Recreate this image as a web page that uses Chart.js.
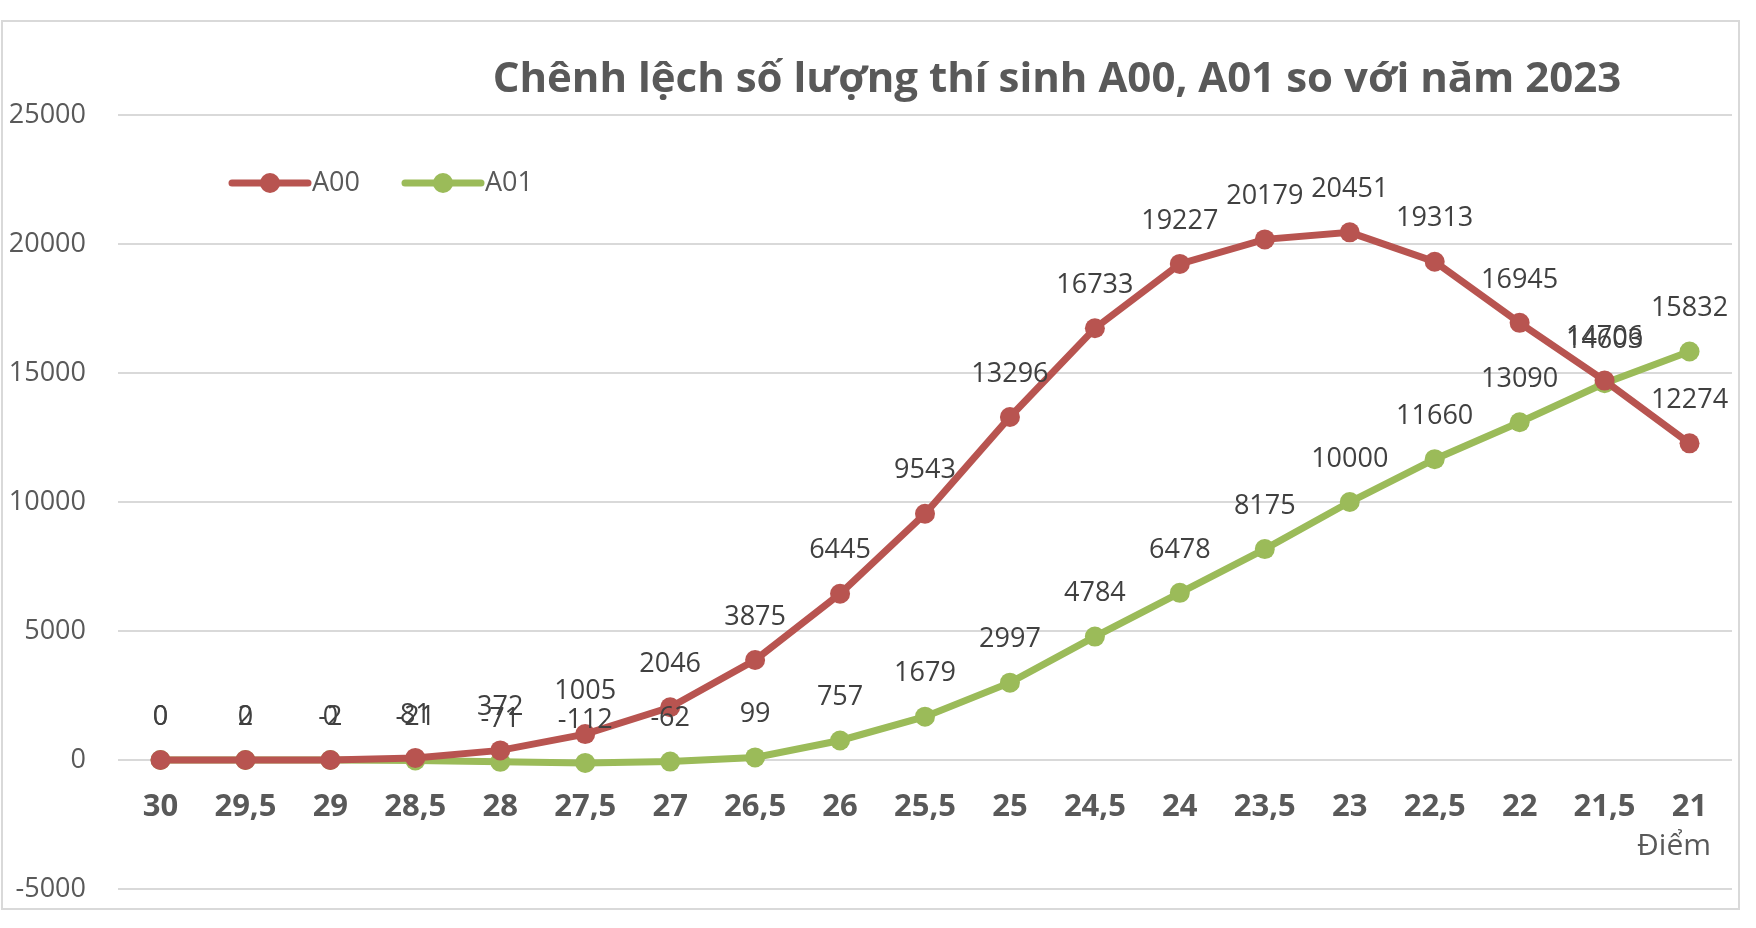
<!DOCTYPE html>
<html>
<head>
<meta charset="utf-8">
<script src="https://cdn.jsdelivr.net/npm/chart.js@4.4.1/dist/chart.umd.min.js"></script>
<style>
  html, body { margin: 0; padding: 0; background: #fff; }
</style>
</head>
<body>
<canvas id="chart" width="1756" height="928"></canvas>
<script>
const diem = ["30", "29,5", "29", "28,5", "28", "27,5", "27", "26,5", "26", "25,5",
              "25", "24,5", "24", "23,5", "23", "22,5", "22", "21,5", "21"];
const a00 = [0, 2, 0, 81, 372, 1005, 2046, 3875, 6445, 9543,
             13296, 16733, 19227, 20179, 20451, 19313, 16945, 14706, 12274];
const a01 = [0, 0, -2, -21, -71, -112, -62, 99, 757, 1679,
             2997, 4784, 6478, 8175, 10000, 11660, 13090, 14603, 15832];
const y_ticks = [-5000, 0, 5000, 10000, 15000, 20000, 25000];

const title_text = "Chênh lệch số lượng thí sinh A00, A01 so với năm 2023";
const x_title = "Điểm";

const red = "#B85450";
const green = "#9BBB59";
const text_grey = "#595959";

// border, title, legend, axis name and value labels
const extras = {
  id: "extras",
  beforeDraw(chart) {
    const ctx = chart.ctx;
    ctx.save();
    ctx.fillStyle = "#fff";
    ctx.fillRect(0, 0, chart.width, chart.height);
    ctx.strokeStyle = "#d9d9d9";
    ctx.lineWidth = 2;
    ctx.strokeRect(2, 21, 1737, 888);
    ctx.restore();
  },
  afterDraw(chart) {
    const ctx = chart.ctx;
    ctx.save();

    ctx.fillStyle = text_grey;
    ctx.font = "bold 42px 'Open Sans'";
    ctx.textAlign = "center";
    ctx.textBaseline = "middle";
    ctx.fillText(title_text, 1057, 80);

    // legend
    chart.data.datasets.forEach((ds, i) => {
      const x0 = i === 0 ? 232 : 405;
      ctx.strokeStyle = ds.borderColor;
      ctx.lineWidth = 7;
      ctx.lineCap = "round";
      ctx.beginPath();
      ctx.moveTo(x0, 183);
      ctx.lineTo(x0 + 76, 183);
      ctx.stroke();
      ctx.fillStyle = ds.borderColor;
      ctx.beginPath();
      ctx.arc(x0 + 38, 183, 10, 0, Math.PI * 2);
      ctx.fill();
      ctx.fillStyle = text_grey;
      ctx.font = "27px 'Open Sans'";
      ctx.textAlign = "left";
      ctx.fillText(ds.label, x0 + 80, 183);
    });

    ctx.font = "30px 'Open Sans'";
    ctx.textAlign = "right";
    ctx.fillText(x_title, 1711, 846);

    // value labels above each point
    ctx.font = "27px 'Open Sans'";
    ctx.textAlign = "center";
    ctx.fillStyle = "#404040";
    chart.data.datasets.forEach((ds, i) => {
      chart.getDatasetMeta(i).data.forEach((pt, j) => {
        ctx.fillText(String(ds.data[j]), pt.x, pt.y - 43);
      });
    });
    ctx.restore();
  }
};

new Chart(document.getElementById("chart"), {
  type: "line",
  data: {
    labels: diem,
    datasets: [{
      label: "A00",
      data: a00,
      borderColor: red,
      backgroundColor: red,
      borderWidth: 7,
      pointRadius: 10,
      pointBorderWidth: 0,
      tension: 0
    },
    {
      label: "A01",
      data: a01,
      borderColor: green,
      backgroundColor: green,
      borderWidth: 7,
      pointRadius: 10,
      pointBorderWidth: 0,
      tension: 0
    }]
  },
  options: {
    responsive: false,
    animation: false,
    layout: { padding: { top: 115, left: 0, right: 24, bottom: 39 } },
    plugins: {
      legend: { display: false },
      tooltip: { enabled: false },
      title: { display: false }
    },
    scales: {
      x: {
        position: { y: 0 },
        offset: true,
        grid: { display: false },
        border: { display: false },
        ticks: {
          color: text_grey,
          font: { family: "Open Sans", size: 31, weight: "bold" },
          padding: 21,
          maxRotation: 0,
          autoSkip: false
        }
      },
      y: {
        min: -5000,
        max: 25000,
        afterBuildTicks: (scale) => { scale.ticks = y_ticks.map(v => ({ value: v })); },
        afterFit: (scale) => {
          scale.width = 118;
          // the tick padding is horizontal here, keep it out of the vertical layout
          scale.paddingTop = 0;
          scale.paddingBottom = 0;
        },
        grid: { color: "#d9d9d9", lineWidth: 2, drawTicks: false },
        border: { display: false },
        ticks: {
          color: text_grey,
          font: { family: "Open Sans", size: 27 },
          padding: 32,
          callback: (v) => String(v)
        }
      }
    }
  },
  plugins: [extras]
});
</script>
</body>
</html>
